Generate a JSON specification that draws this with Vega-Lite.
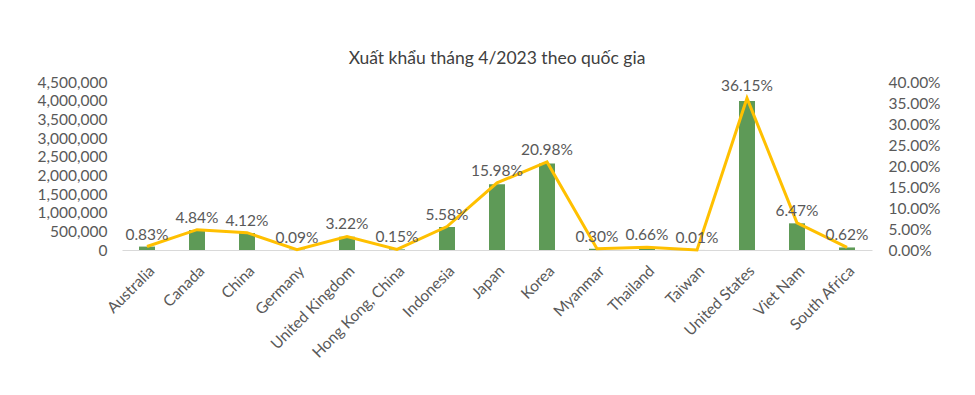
{
  "$schema": "https://vega.github.io/schema/vega-lite/v6.json",
  "autosize": "none",
  "width": 750,
  "height": 168,
  "padding": {"left": 122, "top": 82, "right": 103, "bottom": 145},
  "background": "white",
  "title": {"text": "Xuất khẩu tháng 4/2023 theo quốc gia", "fontSize": 17.5, "font": "Lato", "fontWeight": "normal", "color": "#404040", "anchor": "middle", "offset": 8},
  "config": {
    "font": "Lato",
    "view": {"stroke": null},
    "axis": {"labelColor": "#595959", "labelFontSize": 15.5, "grid": false, "ticks": false, "domain": false, "title": null, "labelOverlap": false}
  },
  "data": {"values": [
    {"country": "Australia", "value": 91600, "pct": 0.0083},
    {"country": "Canada", "value": 534300, "pct": 0.0484},
    {"country": "China", "value": 454800, "pct": 0.0412},
    {"country": "Germany", "value": 9900, "pct": 0.0009},
    {"country": "United Kingdom", "value": 355500, "pct": 0.0322},
    {"country": "Hong Kong, China", "value": 16600, "pct": 0.0015},
    {"country": "Indonesia", "value": 616000, "pct": 0.0558},
    {"country": "Japan", "value": 1764000, "pct": 0.1598},
    {"country": "Korea", "value": 2316000, "pct": 0.2098},
    {"country": "Myanmar", "value": 33100, "pct": 0.0030},
    {"country": "Thailand", "value": 72900, "pct": 0.0066},
    {"country": "Taiwan", "value": 1100, "pct": 0.0001},
    {"country": "United States", "value": 3991000, "pct": 0.3615},
    {"country": "Viet Nam", "value": 714300, "pct": 0.0647},
    {"country": "South Africa", "value": 68400, "pct": 0.0062}
  ]},
  "encoding": {
    "x": {"field": "country", "type": "nominal", "sort": null,
      "axis": {"labelAngle": -45, "domain": true, "domainColor": "#d9d9d9", "labelPadding": 13}}
  },
  "layer": [
    {
      "mark": {"type": "bar", "color": "#5e9a57", "size": 16},
      "encoding": {
        "y": {"field": "value", "type": "quantitative", "scale": {"domain": [0, 4500000]},
          "axis": {"orient": "left", "values": [0, 500000, 1000000, 1500000, 2000000, 2500000, 3000000, 3500000, 4000000, 4500000], "format": ",.0f", "labelPadding": 15, "labelOverlap": false}}
      }
    },
    {
      "encoding": {
        "y": {"field": "pct", "type": "quantitative", "scale": {"domain": [0, 0.4]},
          "axis": {"orient": "right", "values": [0, 0.05, 0.1, 0.15, 0.2, 0.25, 0.3, 0.35, 0.4], "format": ".2%", "labelPadding": 16, "labelOverlap": false}}
      },
      "layer": [
        {
          "mark": {"type": "line", "color": "#ffc000", "strokeWidth": 3}
        },
        {
          "mark": {"type": "text", "color": "#595959", "fontSize": 15.5, "baseline": "middle", "dy": -12},
          "encoding": {
            "text": {"field": "pct", "type": "quantitative", "format": ".2%"}
          }
        }
      ]
    }
  ],
  "resolve": {"scale": {"y": "independent"}}
}
